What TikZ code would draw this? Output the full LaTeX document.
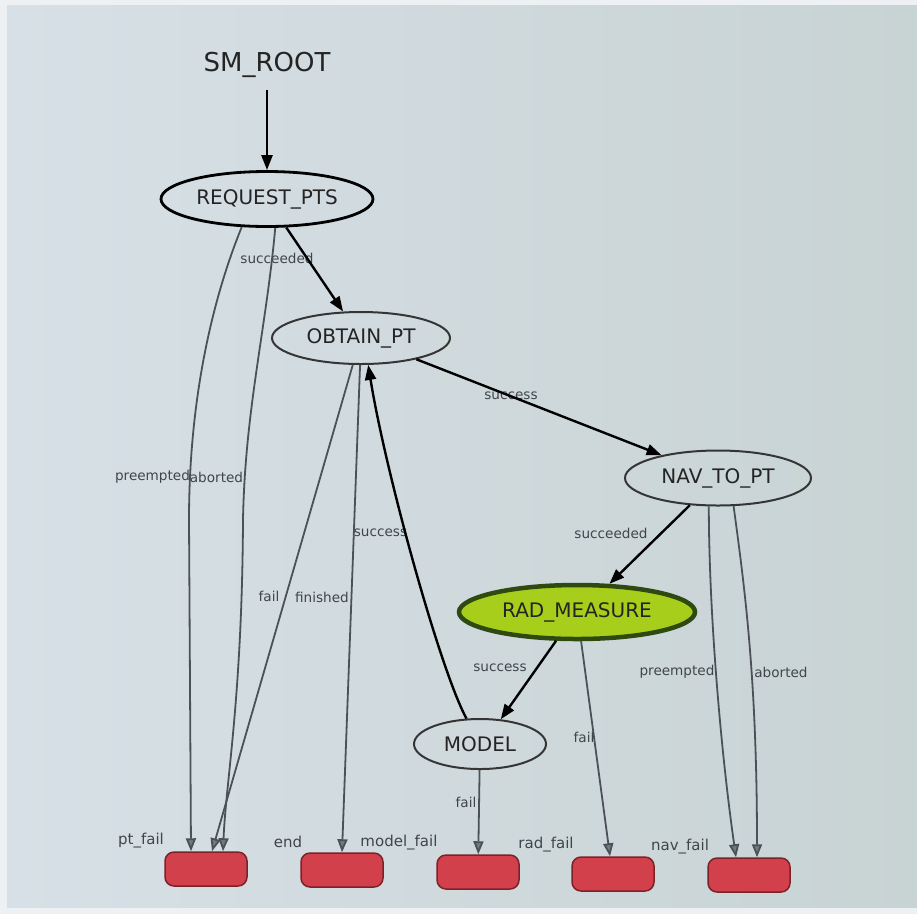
\documentclass[tikz,border=0pt]{standalone}
\usepackage{fontspec}
\setmainfont{DejaVu Sans}
\usetikzlibrary{shapes.geometric,arrows.meta}
\definecolor{bgl}{HTML}{D7E0E6}
\definecolor{bgr}{HTML}{C8D3D4}
\definecolor{frame}{HTML}{EEF1F3}
\definecolor{txt}{HTML}{242424}
\definecolor{lbltxt}{HTML}{40454A}
\definecolor{stateline}{HTML}{353535}
\definecolor{greyline}{HTML}{4A5157}
\definecolor{arrowfill}{HTML}{6F7A84}
\definecolor{radfill}{HTML}{A8CE1C}
\definecolor{raddark}{HTML}{2F4A10}
\definecolor{boxred}{HTML}{D2404B}
\definecolor{boxline}{HTML}{7B2228}
\tikzset{
  state/.style={ellipse, draw=stateline, line width=2pt, inner sep=0pt,
    font=\fontsize{20}{24}\selectfont, text=txt},
  outcome/.style={rounded corners=9pt, draw=boxline, fill=boxred, line width=1.5pt,
    minimum width=82pt, minimum height=34pt, inner sep=0pt},
  lbl/.style={font=\fontsize{13.6}{16}\selectfont, text=lbltxt, inner sep=0pt},
  olbl/.style={font=\fontsize{15}{18}\selectfont, text=lbltxt, inner sep=0pt},
  tedge/.style={draw=black, line width=2.4pt, -{Triangle[length=15pt,width=11pt]}},
  gedge/.style={draw=greyline, line width=1.8pt,
    -{Triangle[length=13pt,width=10pt,fill=arrowfill]}}
}
\begin{document}
\begin{tikzpicture}[x=1pt,y=-1pt]
\useasboundingbox (0,0) rectangle (917,914);
\fill[frame] (0,0) rectangle (917,914);
\shade[left color=bgl, right color=bgr] (7,5) rectangle (917,907);

% states
\node[font=\fontsize{26}{30}\selectfont, text=txt, inner sep=0pt] (root) at (267,65) {SM\_ROOT};
\node[state, draw=black, line width=2.8pt, minimum width=212pt, minimum height=55pt] (req) at (267,199) {REQUEST\_PTS};
\node[state, minimum width=178pt, minimum height=52pt] (obt) at (361,338) {OBTAIN\_PT};
\node[state, minimum width=186pt, minimum height=55pt] (nav) at (718,478) {NAV\_TO\_PT};
\node[state, fill=radfill, draw=raddark, line width=4.5pt, minimum width=236pt, minimum height=54pt] (rad) at (577,612) {RAD\_MEASURE};
\node[state, minimum width=132pt, minimum height=50pt] (model) at (480,744) {MODEL};

% outcomes
\node[outcome] (ptf) at (206,869) {};
\node[outcome] (endn) at (342,870) {};
\node[outcome] (mf) at (478,872) {};
\node[outcome] (rf) at (613,874) {};
\node[outcome] (nf) at (749,875) {};
\node[olbl] (lpt) at (141,841) {pt\_fail};
\node[olbl] (lend) at (288,842) {end};
\node[olbl] (lmf) at (399,843) {model\_fail};
\node[olbl] (lrf) at (546,845) {rad\_fail};
\node[olbl] (lnf) at (680,847) {nav\_fail};

% edge labels
\node[lbl] (e1) at (277,258) {succeeded};
\node[lbl] (e2) at (152.5,477) {preempted};
\node[lbl] (e3) at (216.5,477) {aborted};
\node[lbl] (e4) at (269,596) {fail};
\node[lbl] (e5) at (322,597) {finished};
\node[lbl] (e6) at (380.5,533) {success};
\node[lbl] (e7) at (511,396) {success};
\node[lbl] (e8) at (611,533) {succeeded};
\node[lbl] (e9) at (677,672) {preempted};
\node[lbl] (e10) at (781,672) {aborted};
\node[lbl] (e11) at (500,668) {success};
\node[lbl] (e12) at (584,737) {fail};
\node[lbl] (e13) at (466,802) {fail};

% edges
\draw[tedge, shorten <=12pt] (root) -- (req);
\draw[tedge] (req) -- (obt);
\draw[gedge] (req.228) .. controls (212,300) and (189,400) .. (189,520) -- ([xshift=-15pt]ptf.north);
\draw[gedge] (req.286) .. controls (266,330) and (245,410) .. (243,520) .. controls (242,700) and (226,780) .. ([xshift=17pt]ptf.north);
\draw[gedge] (obt.253) -- ([xshift=6pt]ptf.north);
\draw[gedge] (obt.268) -- (endn.north);
\draw[tedge] (model.118) .. controls (440,670) and (385,470) .. (obt.285);
\draw[tedge] (obt.339) -- (nav.158);
\draw[tedge] (nav.224) -- (rad.41);
\draw[gedge] (nav.252) .. controls (709,620) and (722,760) .. ([xshift=-13pt]nf.north);
\draw[gedge] (nav.299) .. controls (745,590) and (757,680) .. ([xshift=8pt]nf.north);
\draw[tedge] (rad.234) -- (model.50);
\draw[gedge] (rad.278) -- ([xshift=-3pt]rf.north);
\draw[gedge] (model) -- (mf);
\end{tikzpicture}
\end{document}
